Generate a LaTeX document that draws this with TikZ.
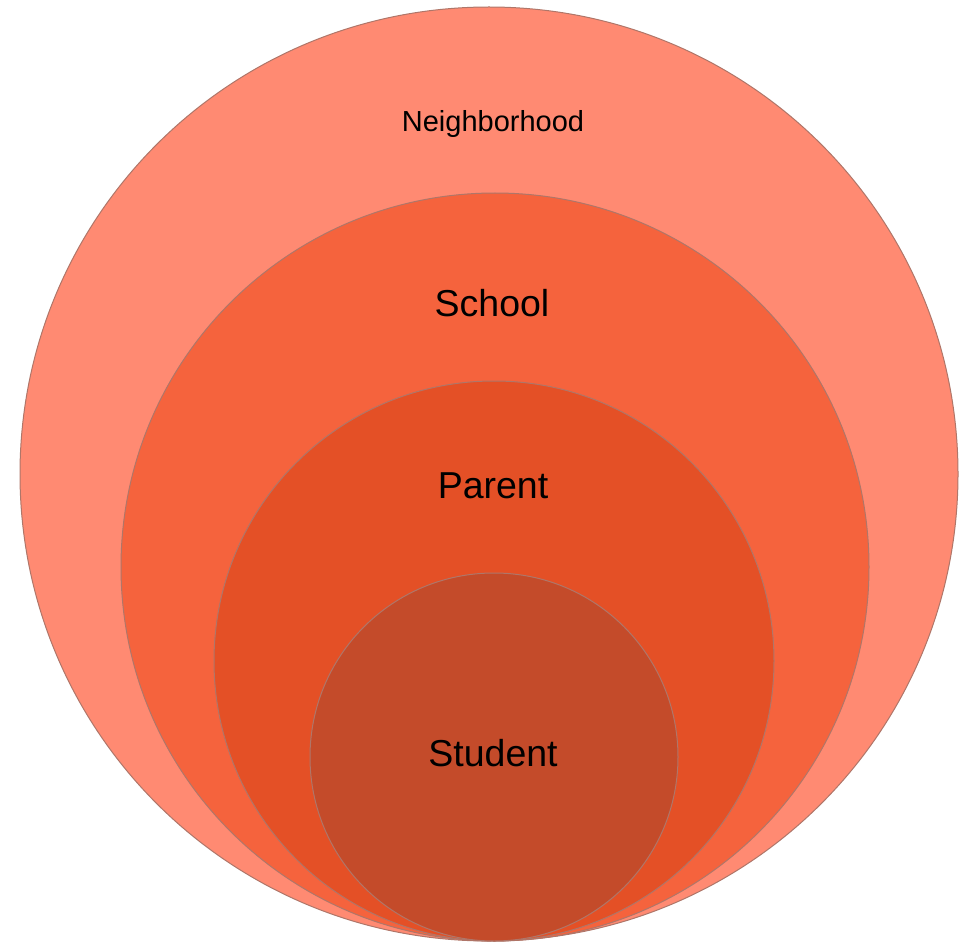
\documentclass[tikz,border=0pt]{standalone}
\usepackage{fontspec}
\setmainfont{Liberation Sans}
\usepackage{tikz}
\usetikzlibrary{positioning,shapes.geometric}
\usepackage{xcolor}
\definecolor{nbhdfill}{RGB}{255,138,114}
\definecolor{schoolfill}{RGB}{245,99,61}
\definecolor{parentfill}{RGB}{228,80,38}
\definecolor{studentfill}{RGB}{196,75,42}
\definecolor{rimgray}{RGB}{175,118,105}

\begin{document}
\begin{tikzpicture}[x=1pt, y=-1pt,
    ring/.style={circle, draw=rimgray, line width=1pt, inner sep=0pt},
    ringtext/.style={anchor=base, text=black, font=\fontsize{37.5}{40}\selectfont}
]
    \useasboundingbox (0,0) rectangle (959,944);
    \node[ring, ellipse, fill=nbhdfill, minimum width=938pt, minimum height=934pt] (nbhd) at (489,474) {};
    \node[ring, fill=schoolfill, minimum size=748pt] (school) at (495,567) {};
    \node[ring, fill=parentfill, minimum size=560pt] (parent) at (494,661) {};
    \node[ring, fill=studentfill, minimum size=368pt] (student) at (494,757) {};

    \node[ringtext, font=\fontsize{29}{31}\selectfont] (nbhdtext) at (493,132) {Neighborhood};
    \node[ringtext] (schooltext) at (492,316.5) {School};
    \node[ringtext] (parenttext) at (493,498) {Parent};
    \node[ringtext] (studenttext) at (493,766.5) {Student};
\end{tikzpicture}
\end{document}
